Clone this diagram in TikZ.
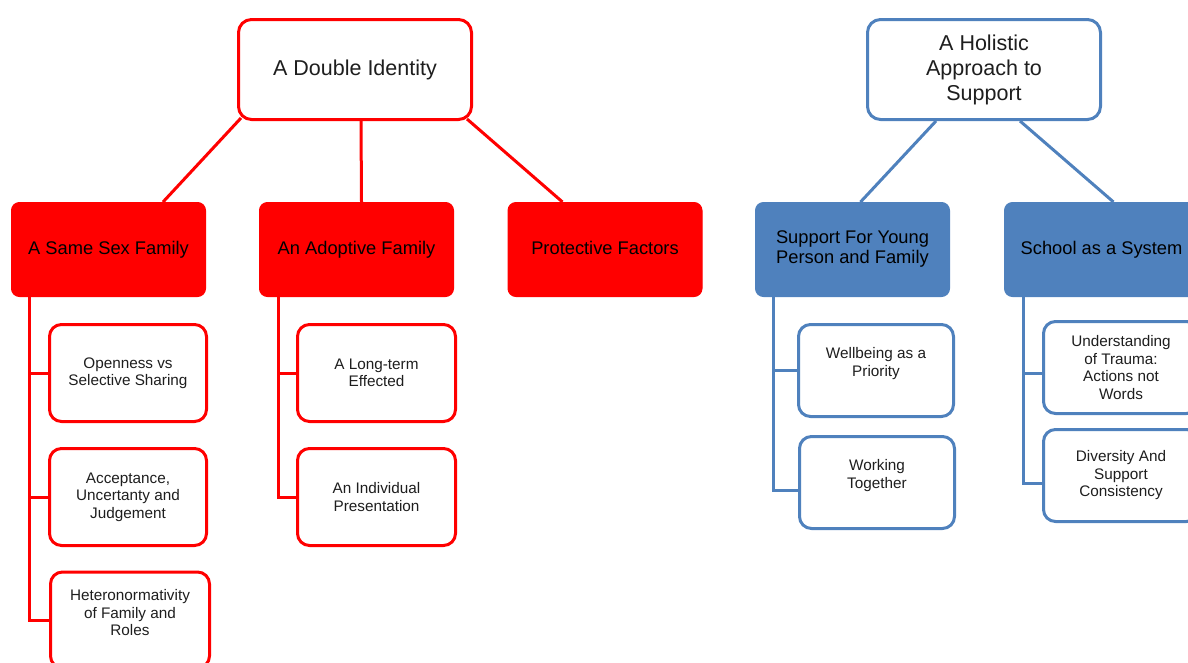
\documentclass[tikz,border=0pt]{standalone}
\usepackage{fontspec}
\setmainfont{Liberation Sans}
\usetikzlibrary{calc}
\definecolor{rd}{HTML}{FF0000}
\definecolor{bl}{HTML}{4F81BD}
\definecolor{txt}{HTML}{1E1E1E}
\begin{document}
\begin{tikzpicture}[x=1pt,y=-1pt,
  topbox/.style={draw=#1, line width=3pt, rounded corners=13pt, fill=white,
    minimum width=233pt, minimum height=100pt, align=center, text=txt,
    font=\fontsize{21.5}{25}\selectfont},
  midbox/.style={draw=#1, fill=#1, line width=1pt, rounded corners=8pt,
    minimum width=194pt, minimum height=94pt, align=center, text=black,
    font=\fontsize{18.3}{20}\selectfont},
  subbox/.style={draw=#1, line width=3pt, rounded corners=12pt, fill=white,
    align=center, text=txt, font=\fontsize{15.3}{17.5}\selectfont},
  link/.style={draw=#1, line width=3pt}]
\useasboundingbox (0,0) rectangle (1188,662);
\clip (0,0) rectangle (1188,662);

% top nodes
\node[topbox=rd] (dbl) at (355,69.5) {A Double Identity};
\node[topbox=bl] (hol) at (984,69.5) {A Holistic\\Approach to\\Support};

% middle nodes
\node[midbox=rd] (ss) at (108.5,249.5) {A Same Sex Family};
\node[midbox=rd] (ad) at (356.5,249.5) {An Adoptive Family};
\node[midbox=rd] (pf) at (605,249.5) {Protective Factors\vphantom{y}};
\node[midbox=bl] (sy) at (852.5,249.5) {Support For Young\\Person and Family};
\node[midbox=bl] (sc) at (1101.5,249.5) {School as a System};

% red children
\node[subbox=rd, minimum width=157pt, minimum height=97pt] (op) at (128,373) {Openness vs\\Selective Sharing};
\node[subbox=rd, minimum width=157pt, minimum height=97pt] (ac) at (128,497) {Acceptance,\\Uncertanty and\\Judgement};
\node[subbox=rd, minimum width=159pt, minimum height=96pt] (he) at (130,620) {Heteronormativity\\of Family and\\Roles\\[-3pt]\mbox{}};
\node[subbox=rd, minimum width=158pt, minimum height=97pt] (lt) at (376.5,373) {A Long-term\\Effected};
\node[subbox=rd, minimum width=158pt, minimum height=97pt] (ip) at (376.5,497) {An Individual\\Presentation};

% blue children
\node[subbox=bl, minimum width=155pt, minimum height=92pt] (wb) at (876,370.5) {Wellbeing as a\\Priority\\\mbox{}};
\node[subbox=bl, minimum width=155pt, minimum height=92pt] (wt) at (877,482.5) {Working\\Together\\\mbox{}};
\node[subbox=bl, minimum width=155pt, minimum height=92pt] (ut) at (1121,367.5) {Understanding\\of Trauma:\\Actions not\\Words};
\node[subbox=bl, minimum width=155pt, minimum height=92pt] (dv) at (1121,475.5) {Diversity And\\Support\\Consistency};

% top connectors
\draw[link=rd] ($(dbl.south west)+(4,-3)$) -- ($(ss.north west)+(152,0)$);
\draw[link=rd] ($(dbl.south)+(6,0)$) -- ($(ad.north)+(5,0)$);
\draw[link=rd] ($(dbl.south east)+(-6,-2)$) -- ($(pf.north west)+(55,0)$);
\draw[link=bl] ($(hol.south)+(-48,0)$) -- ($(sy.north)+(8,0)$);
\draw[link=bl] ($(hol.south)+(36,0)$) -- ($(sc.north)+(12,0)$);

% elbow connectors
\coordinate (ssv) at ($(ss.south west)+(18,0)$);
\draw[link=rd] (ssv) |- (he.west);
\draw[link=rd] (ssv) |- (op.west);
\draw[link=rd] (ssv) |- (ac.west);
\coordinate (adv) at ($(ad.south west)+(19,0)$);
\draw[link=rd] (adv) |- (ip.west);
\draw[link=rd] (adv) |- (lt.west);
\coordinate (syv) at ($(sy.south west)+(18,0)$);
\draw[link=bl] (syv) |- ($(wt.west)+(0,7.5)$);
\draw[link=bl] (syv) |- (wb.west);
\coordinate (scv) at ($(sc.south west)+(19,0)$);
\draw[link=bl] (scv) |- ($(dv.west)+(0,7.5)$);
\draw[link=bl] (scv) |- ($(ut.west)+(0,5.5)$);
\end{tikzpicture}
\end{document}
